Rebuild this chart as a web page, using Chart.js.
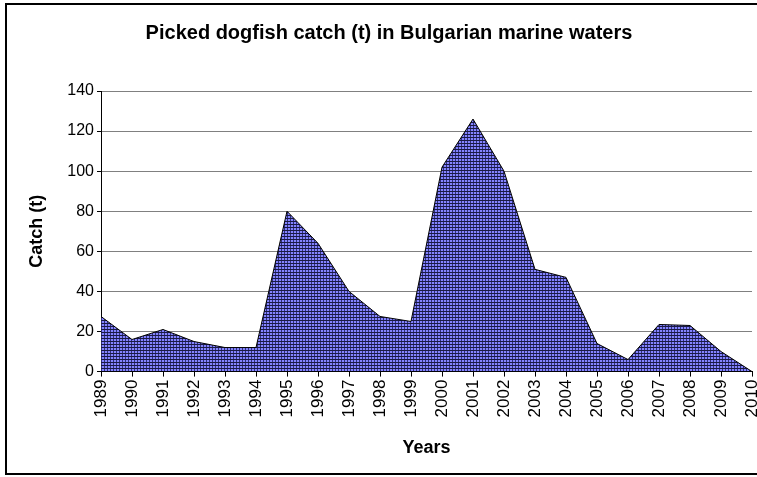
<!DOCTYPE html>
<html>
<head>
<meta charset="utf-8">
<title>Picked dogfish catch</title>
<script src="https://cdn.jsdelivr.net/npm/chart.js@4/dist/chart.umd.min.js"></script>
<style>
  html, body { margin: 0; padding: 0; background: #fff; }
  #wrap { width: 757px; height: 477px; }
</style>
</head>
<body>
<div id="wrap"><canvas id="chart-catch" width="757" height="477"></canvas></div>
<script>
// Catch per year, tonnes
const years = ['1989', '1990', '1991', '1992', '1993', '1994', '1995', '1996', '1997', '1998', '1999',
               '2000', '2001', '2002', '2003', '2004', '2005', '2006', '2007', '2008', '2009', '2010'];
const catchTonnes = [27.5, 16, 21, 15, 12, 12, 80, 64, 40, 27.5, 25,
                     102, 126, 100, 51, 47, 14, 6, 23.5, 23, 10, 0];
const yTicks = [0, 20, 40, 60, 80, 100, 120, 140];

Chart.defaults.font.family = 'Arial, "Liberation Sans", sans-serif';
Chart.defaults.color = '#000';

// blue fill with a fine dark plaid, like the old office "dotted grid" fill
function makeFill() {
    const tile = document.createElement('canvas');
    tile.width = 3;
    tile.height = 3;
    const t = tile.getContext('2d');
    t.fillStyle = '#8484ff';
    t.fillRect(0, 0, 3, 3);
    t.fillStyle = '#1a1a44';
    t.fillRect(0, 2, 3, 1);
    t.fillStyle = '#30307a';
    t.fillRect(2, 0, 1, 2);
    return t.createPattern(tile, 'repeat');
}

// black frame around the whole chart (right side runs off the canvas)
const outerFrame = {
    id: 'outerFrame',
    afterDraw(chart) {
        const ctx = chart.ctx;
        ctx.save();
        ctx.strokeStyle = '#000';
        ctx.lineWidth = 2;
        ctx.strokeRect(6, 4, 760, 470);
        ctx.restore();
    }
};

const ctx = document.getElementById('chart-catch');
new Chart(ctx, {
    type: 'line',
    data: {
        labels: years,
        datasets: [{
            label: 'Catch (t)',
            data: catchTonnes,
            borderColor: '#000',
            borderWidth: 1,
            backgroundColor: makeFill(),
            fill: 'origin',
            tension: 0,
            pointRadius: 0,
        }],
    },
    options: {
        responsive: false,
        animation: false,
        layout: { padding: { top: 4, left: 26, right: 5, bottom: 0 } },
        plugins: {
            legend: { display: false },
            tooltip: { enabled: false },
            title: {
                display: true,
                text: 'Picked dogfish catch (t) in Bulgarian marine waters',
                font: { size: 20, weight: 'bold' },
                color: '#000',
                padding: { top: 17, bottom: 46 },
            },
        },
        scales: {
            x: {
                ticks: {
                    minRotation: 90,
                    maxRotation: 90,
                    autoSkip: false,
                    padding: 3,
                    font: { size: 17 },
                    color: '#000',
                },
                grid: {
                    drawOnChartArea: false,
                    drawTicks: true,
                    tickLength: 5,
                    tickColor: '#000',
                },
                border: { color: '#000', width: 1 },
                title: {
                    display: true,
                    text: 'Years',
                    font: { size: 18, weight: 'bold' },
                    color: '#000',
                    padding: { top: 17, bottom: 18 },
                },
                afterFit(scale) {
                    scale.paddingLeft = 0;
                    scale.paddingRight = 0;
                },
            },
            y: {
                min: 0,
                max: 140,
                afterBuildTicks(scale) {
                    scale.ticks = yTicks.map(v => ({ value: v }));
                },
                ticks: {
                    padding: 3,
                    font: { size: 16 },
                    color: '#000',
                },
                grid: {
                    color: '#808080',
                    lineWidth: 1,
                    tickLength: 4,
                    tickColor: '#000',
                },
                border: { color: '#000', width: 1 },
                title: {
                    display: true,
                    text: 'Catch (t)',
                    font: { size: 18, weight: 'bold' },
                    color: '#000',
                    padding: 0,
                },
                afterFit(scale) {
                    scale.width = 75;
                },
            },
        },
    },
    plugins: [outerFrame],
});
</script>
</body>
</html>
